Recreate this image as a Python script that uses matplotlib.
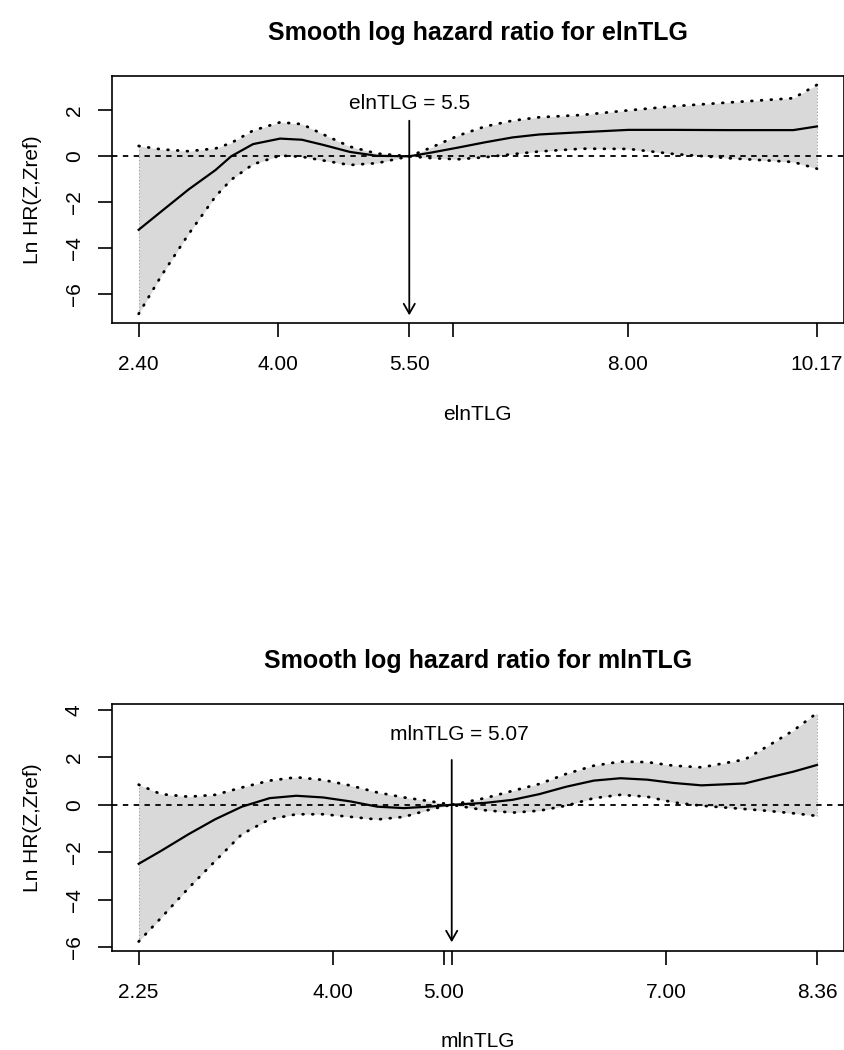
import matplotlib
matplotlib.use('Agg')
import matplotlib.pyplot as plt
import matplotlib.transforms as mtransforms

plt.rcParams['font.family'] = ['Liberation Sans', 'DejaVu Sans']

# --- elnTLG (top panel) ---
e_x = [2.40, 2.66, 2.97, 3.28, 3.46, 3.71, 4.02, 4.27, 4.51, 4.82, 5.13, 5.50,
       5.75, 6.06, 6.37, 6.68, 6.99, 7.48, 8.01, 8.53, 9.15, 9.90, 10.17]
e_hr = [-3.20, -2.40, -1.45, -0.60, 0.00, 0.53, 0.77, 0.72, 0.50, 0.19, 0.02, 0.00,
        0.16, 0.38, 0.61, 0.82, 0.95, 1.05, 1.15, 1.15, 1.14, 1.14, 1.30]
e_upper = [0.45, 0.30, 0.22, 0.34, 0.58, 1.12, 1.48, 1.40, 0.96, 0.42, 0.12, 0.00,
           0.38, 0.90, 1.30, 1.55, 1.70, 1.80, 2.00, 2.18, 2.34, 2.53, 3.11]
e_lower = [-6.86, -5.20, -3.40, -1.75, -1.02, -0.35, 0.03, -0.02, -0.18, -0.38, -0.30, 0.00,
           -0.08, -0.13, -0.04, 0.09, 0.21, 0.33, 0.32, 0.10, -0.08, -0.25, -0.54]
e_ref = 5.5
e_ticks = [2.40, 4.00, 5.50, 6.00, 8.00, 10.17]
e_labels = ['2.40', '4.00', '5.50', '', '8.00', '10.17']

# --- mlnTLG (bottom panel) ---
m_x = [2.25, 2.45, 2.70, 2.94, 3.18, 3.43, 3.67, 3.91, 4.16, 4.40, 4.64, 4.89, 5.07,
       5.37, 5.62, 5.86, 6.10, 6.35, 6.59, 6.83, 7.07, 7.32, 7.71, 7.90, 8.15, 8.36]
m_hr = [-2.49, -1.95, -1.24, -0.61, -0.08, 0.28, 0.38, 0.31, 0.14, -0.08, -0.14, -0.07, 0.00,
        0.08, 0.21, 0.45, 0.76, 1.02, 1.12, 1.06, 0.92, 0.82, 0.90, 1.12, 1.40, 1.68]
m_upper = [0.85, 0.45, 0.34, 0.42, 0.73, 1.02, 1.16, 1.05, 0.81, 0.52, 0.31, 0.14, 0.00,
           0.28, 0.59, 0.88, 1.30, 1.65, 1.82, 1.80, 1.65, 1.58, 1.91, 2.43, 3.14, 3.87]
m_lower = [-5.77, -4.78, -3.51, -2.37, -1.24, -0.61, -0.40, -0.40, -0.51, -0.62, -0.51, -0.18, 0.00,
           -0.23, -0.33, -0.25, -0.04, 0.28, 0.42, 0.34, 0.10, -0.04, -0.18, -0.25, -0.36, -0.47]
m_ref = 5.07
m_ticks = [2.25, 4.00, 5.00, 5.07, 7.00, 8.36]
m_labels = ['2.25', '4.00', '5.00', '', '7.00', '8.36']

yticks = [-6, -4, -2, 0, 2, 4]


def hr_panel(ax, x, hr, lower, upper, ref, ticks, labels, name,
             arrow_top, arrow_tip, text_y, text_dx):
    ax.fill_between(x, lower, upper, color='#d9d9d9', lw=0, zorder=1)
    # grey dotted edges of the band at both ends
    ax.vlines([x[0], x[-1]], [lower[0], lower[-1]], [upper[0], upper[-1]],
              colors='#a0a0a0', linestyles=(0, (1, 2)), lw=0.8, zorder=2)
    dots = dict(color='k', ls=(0, (0.3, 3.2)), lw=2.0, dash_capstyle='round', zorder=3)
    ax.plot(x, upper, **dots)
    ax.plot(x, lower, **dots)
    ax.plot(x, hr, color='k', lw=1.6, zorder=4)
    ax.axhline(0, color='k', ls=(0, (3, 3)), lw=1.3, zorder=3)

    # R style 4% axis padding
    xr = x[-1] - x[0]
    ax.set_xlim(x[0] - 0.04 * xr, x[-1] + 0.04 * xr)
    lo, hi = min(lower), max(upper)
    ax.set_ylim(lo - 0.04 * (hi - lo), hi + 0.04 * (hi - lo))

    tr = ax.get_xaxis_transform()
    ax.annotate('', xy=(ref, arrow_tip), xycoords=tr, xytext=(ref, arrow_top), textcoords=tr,
                arrowprops=dict(arrowstyle='->,head_length=0.7,head_width=0.4', lw=1.3,
                                color='k', shrinkA=0, shrinkB=0, mutation_scale=10))
    ttr = mtransforms.offset_copy(tr, fig=ax.figure, x=text_dx, y=0, units='dots')
    ax.text(ref, text_y, f'{name} = {ref}', transform=ttr, ha='center', va='center', fontsize=15)

    ax.set_xticks(ticks)
    ax.set_xticklabels(labels)
    ax.set_yticks([t for t in yticks if ax.get_ylim()[0] <= t <= ax.get_ylim()[1]])
    ax.tick_params(axis='both', length=10, width=1.2, labelsize=15, direction='out', pad=10)
    ax.tick_params(axis='x', pad=13)
    for lab in ax.get_yticklabels():
        lab.set_rotation(90)
        lab.set_va('center')
    for s in ax.spines.values():
        s.set_linewidth(1.2)

    ax.set_title(f'Smooth log hazard ratio for {name}', fontsize=18, fontweight='bold', pad=26)
    ax.set_xlabel(name, fontsize=15)
    ax.set_ylabel('Ln HR(Z,Zref)', fontsize=15)
    ax.xaxis.set_label_coords(0.5, -0.33)
    ax.yaxis.set_label_coords(-0.095, 0.5)


fig = plt.figure(figsize=(8.45, 10.5), dpi=100)
ax1 = fig.add_axes([0.132, 0.6924, 0.8669, 0.2355])
ax2 = fig.add_axes([0.132, 0.0946, 0.8669, 0.2350])

hr_panel(ax1, e_x, e_hr, e_lower, e_upper, e_ref, e_ticks, e_labels, 'elnTLG',
         arrow_top=0.818, arrow_tip=0.031, text_y=0.886, text_dx=0)
hr_panel(ax2, m_x, m_hr, m_lower, m_upper, m_ref, m_ticks, m_labels, 'mlnTLG',
         arrow_top=0.773, arrow_tip=0.034, text_y=0.878, text_dx=8)

fig.savefig('out.png', dpi=100)
